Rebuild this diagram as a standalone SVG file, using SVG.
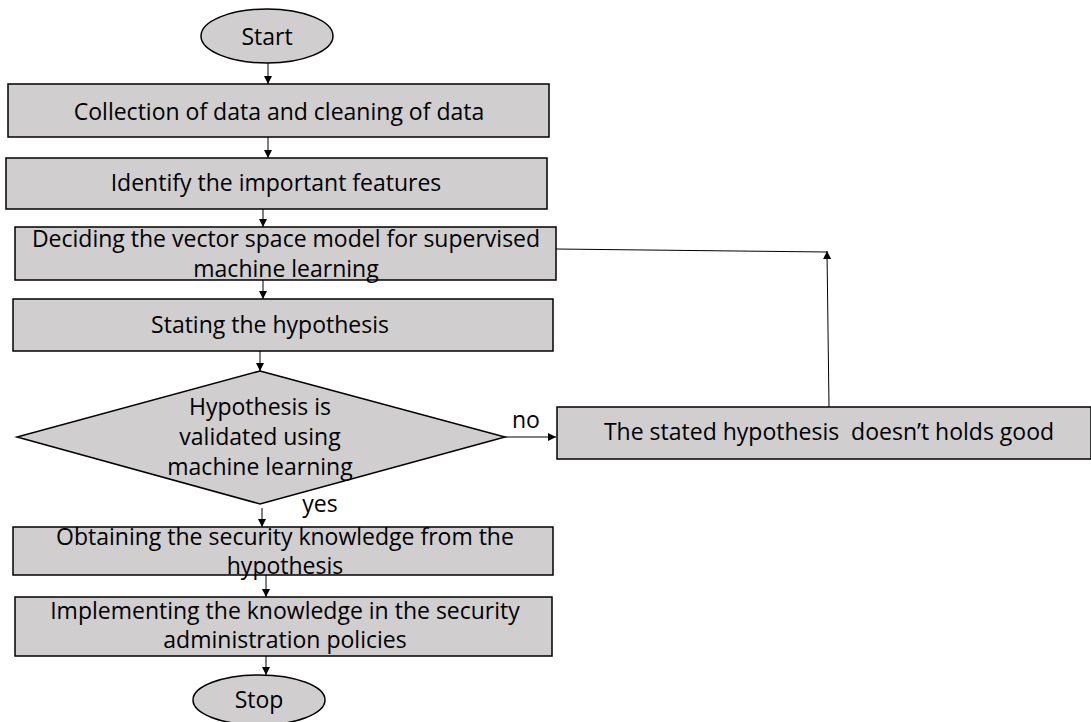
<svg xmlns="http://www.w3.org/2000/svg" width="1091" height="722" viewBox="0 0 1091 722">
<style>
.n{fill:#d0cece;stroke:#000;stroke-width:1.5}
.t{font-family:"Open Sans","Noto Sans",sans-serif;font-size:23px;fill:#000;text-anchor:middle}
.c{stroke:#000;stroke-width:1;fill:none}
</style>
<defs>
<marker id="a" viewBox="0 0 10 10" refX="10" refY="5" markerWidth="8" markerHeight="8" markerUnits="userSpaceOnUse" orient="auto"><path d="M0,0L10,5L0,10z" fill="#000"/></marker>
</defs>
<rect width="1091" height="722" fill="#fff"/>
<g id="connectors">
<line class="c" x1="268" y1="63" x2="268" y2="84" marker-end="url(#a)"/>
<line class="c" x1="268" y1="137" x2="268" y2="158" marker-end="url(#a)"/>
<line class="c" x1="263" y1="209" x2="263" y2="227" marker-end="url(#a)"/>
<line class="c" x1="263" y1="280" x2="263" y2="299" marker-end="url(#a)"/>
<line class="c" x1="260" y1="351" x2="260" y2="371" marker-end="url(#a)"/>
<line class="c" x1="505" y1="437" x2="556" y2="437" marker-end="url(#a)"/>
<line class="c" x1="829" y1="407" x2="827" y2="251" marker-end="url(#a)"/>
<line class="c" x1="556" y1="249" x2="827" y2="252"/>
<line class="c" x1="262" y1="508" x2="262" y2="527" marker-end="url(#a)"/>
<line class="c" x1="266" y1="575" x2="266" y2="597" marker-end="url(#a)"/>
<line class="c" x1="266" y1="656" x2="266" y2="675" marker-end="url(#a)"/>
<text class="t" x="526" y="428">no</text>
<text class="t" x="320" y="512">yes</text>
</g>
<g id="start"><ellipse class="n" cx="267" cy="36" rx="66" ry="27"/><text class="t" x="267" y="45">Start</text></g>
<g id="collect"><rect class="n" x="8" y="84" width="541" height="53"/><text class="t" x="279" y="120">Collection of data and cleaning of data</text></g>
<g id="identify"><rect class="n" x="6" y="158" width="541" height="51"/><text class="t" x="276" y="191">Identify the important features</text></g>
<g id="deciding"><rect class="n" x="15" y="227" width="541" height="53"/><text class="t" x="286" y="247">Deciding the vector space model for supervised</text><text class="t" x="286" y="277">machine learning</text></g>
<g id="stating"><rect class="n" x="13" y="299" width="540" height="52"/><text class="t" x="270" y="333">Stating the hypothesis</text></g>
<g id="decision"><polygon class="n" points="260,371 505,437 260,504 17,437"/><text class="t" x="260" y="415">Hypothesis is</text><text class="t" x="260" y="445">validated using</text><text class="t" x="260" y="475">machine learning</text></g>
<g id="notgood"><rect class="n" x="557" y="407" width="534" height="52"/><text class="t" x="829" y="440" xml:space="preserve">The stated hypothesis  doesn’t holds good</text></g>
<g id="obtaining"><rect class="n" x="13" y="527" width="540" height="48"/><text class="t" x="285" y="545">Obtaining the security knowledge from the</text><text class="t" x="285" y="574">hypothesis</text></g>
<g id="implementing"><rect class="n" x="15" y="597" width="537" height="59"/><text class="t" x="285" y="619">Implementing the knowledge in the security</text><text class="t" x="285" y="648">administration policies</text></g>
<g id="stop"><ellipse class="n" cx="259" cy="700" rx="66" ry="25"/><text class="t" x="259" y="708">Stop</text></g>
</svg>
